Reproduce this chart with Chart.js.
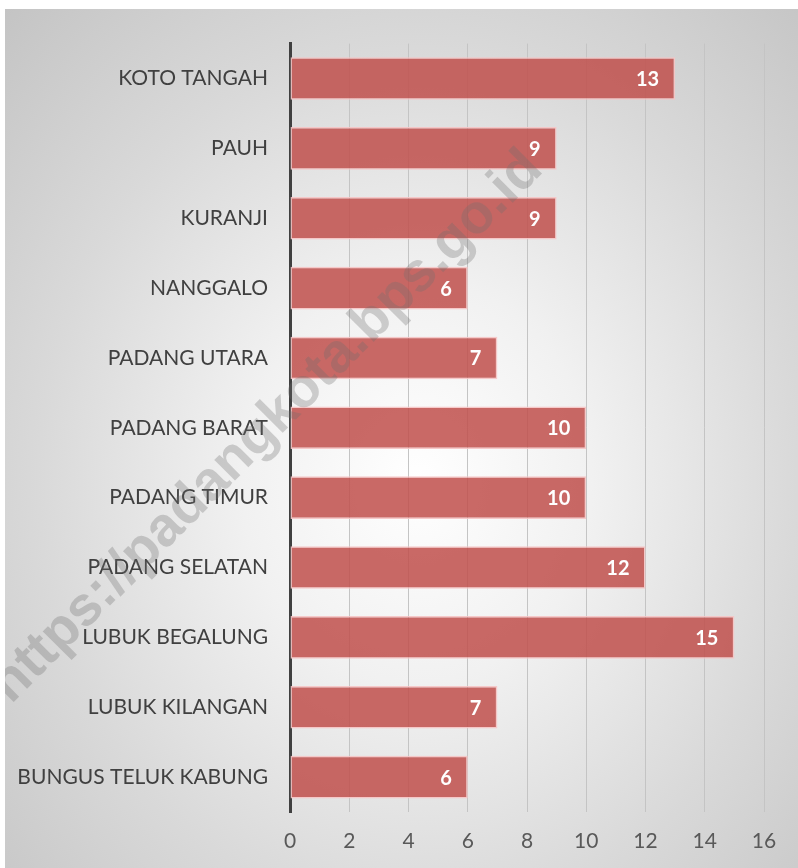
<!DOCTYPE html>
<html lang="id">
<head>
  <meta charset="UTF-8">
  <title>Kecamatan Kota Padang</title>
  <script src="https://cdn.jsdelivr.net/npm/chart.js"></script>
  <style>
    body { margin: 0; background: #fff; }
    #wrap {
      position: absolute; left: 5px; top: 9px; width: 793px; height: 859px;
      background: radial-gradient(ellipse at 52% 55%, #ffffff 0%, #f1f1f1 30%, #d9d9d9 65%, #c4c4c4 100%);
    }
  </style>
</head>
<body>
  <div id="wrap"><canvas id="graphCanvas" width="793" height="859"></canvas></div>

  <script>
    const kecamatan = ['KOTO TANGAH', 'PAUH', 'KURANJI', 'NANGGALO', 'PADANG UTARA', 'PADANG BARAT',
      'PADANG TIMUR', 'PADANG SELATAN', 'LUBUK BEGALUNG', 'LUBUK KILANGAN', 'BUNGUS TELUK KABUNG'];
    const jumlah = [13, 9, 9, 6, 7, 10, 10, 12, 15, 7, 6];
    const xTicks = [0, 2, 4, 6, 8, 10, 12, 14, 16];
    const watermark = 'https://padangkota.bps.go.id';

    // angka putih di ujung batang
    const labelPlugin = {
      id: 'barLabels',
      afterDatasetsDraw(chart) {
        const ctx = chart.ctx;
        const meta = chart.getDatasetMeta(0);
        ctx.save();
        ctx.font = 'bold 20px Lato, "Open Sans", sans-serif';
        ctx.fillStyle = '#ffffff';
        ctx.textAlign = 'right';
        ctx.textBaseline = 'middle';
        meta.data.forEach((bar, i) => {
          ctx.fillText(String(jumlah[i]), bar.x - 16, bar.y + 1);
        });
        ctx.restore();
      }
    };

    const watermarkPlugin = {
      id: 'watermark',
      afterDraw(chart) {
        const ctx = chart.ctx;
        ctx.save();
        ctx.font = 'bold 46px "Liberation Sans", Arial, sans-serif';
        const w = ctx.measureText(watermark).width;
        const size = 46 * 755 / w;
        ctx.font = 'bold ' + size + 'px "Liberation Sans", Arial, sans-serif';
        ctx.translate(262, 418);
        ctx.rotate(-Math.PI / 4);
        ctx.fillStyle = 'rgba(110,110,110,0.3)';
        ctx.textAlign = 'center';
        ctx.textBaseline = 'middle';
        ctx.fillText(watermark, 0, 0);
        ctx.restore();
      }
    };

    new Chart(document.getElementById('graphCanvas'), {
      type: 'bar',
      data: {
        labels: kecamatan,
        datasets: [{
          data: jumlah,
          backgroundColor: 'rgba(192,80,77,0.86)',
          borderColor: 'rgba(246,196,196,0.9)',
          borderWidth: 1.5,
          borderSkipped: false,
          categoryPercentage: 1,
          barPercentage: 0.61
        }]
      },
      options: {
        indexAxis: 'y',
        responsive: false,
        animation: false,
        layout: { padding: { top: 29, right: 34, left: 0, bottom: 0 } },
        plugins: { legend: { display: false }, tooltip: { enabled: false } },
        scales: {
          x: {
            min: 0, max: 16,
            afterBuildTicks: (scale) => { scale.ticks = xTicks.map(v => ({ value: v })); },
            afterFit: (scale) => { scale.height = 56; },
            grid: { color: '#c4c4c4', lineWidth: 1, drawTicks: false },
            border: { display: false },
            ticks: { color: '#595959', padding: 17, font: { family: 'Lato, "Open Sans", sans-serif', size: 21 } }
          },
          y: {
            afterFit: (scale) => { scale.width = 285; },
            grid: { display: false, drawTicks: false },
            border: { display: true, color: '#404040', width: 3 },
            ticks: { color: '#404040', padding: 22, font: { family: 'Lato, "Open Sans", sans-serif', size: 21 } }
          }
        }
      },
      plugins: [labelPlugin, watermarkPlugin]
    });
  </script>
</body>
</html>
